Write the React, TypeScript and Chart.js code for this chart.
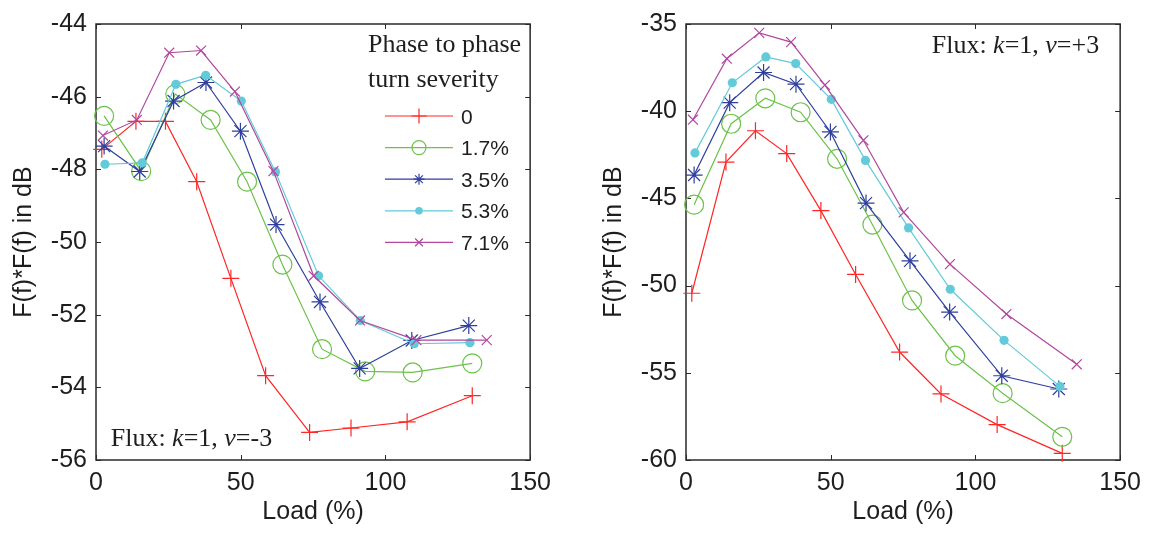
import React, { useEffect, useRef } from 'react';
import { Chart, registerables } from 'chart.js';
import { drawPoint } from 'chart.js/helpers';

Chart.register(...registerables);

// ---------- data ----------
const severityLabels = ['0', '1.7%', '3.5%', '5.3%', '7.1%'];

// load (%) positions of each series' markers
const load0 = [2, 13.8, 24, 34.8, 46.6, 58.6, 73.8, 88.1, 107.5, 130];
const load17 = [2.8, 15.6, 27.4, 39.6, 52.2, 64.4, 78.1, 93, 109.4, 130];
const load35 = [2.8, 15.1, 26.8, 38, 49.9, 62.2, 77.4, 91.1, 109.1, 128.8];
const load53 = [3.1, 16, 27.6, 37.9, 50.2, 62, 76.9, 91.3, 109.9, 129.2];
const load71 = [2.4, 14.1, 25.3, 36.3, 48, 61.3, 75.2, 91.2, 110.7, 135];

// Flux k=1, v=-3 (left panel)
const negS0 = [-47.45, -46.68, -46.68, -48.34, -51.0, -53.68, -55.24, -55.12, -54.95, -54.23];
const negS17 = [-46.53, -48.05, -45.93, -46.64, -48.34, -50.62, -52.95, -53.56, -53.59, -53.34];
const negS35 = [-47.36, -48.06, -46.12, -45.61, -46.95, -49.52, -51.65, -53.48, -52.71, -52.3];
const negS53 = [-47.86, -47.82, -45.66, -45.41, -46.12, -48.07, -50.93, -52.16, -52.8, -52.77];
const negS71 = [-47.07, -46.64, -44.79, -44.73, -45.86, -48.05, -50.93, -52.16, -52.7, -52.7];

// Flux k=1, v=+3 (right panel)
const posS0 = [-50.44, -42.92, -41.12, -42.43, -45.7, -49.36, -53.81, -56.21, -57.97, -59.62];
const posS17 = [-45.36, -40.72, -39.26, -40.06, -42.73, -46.5, -50.85, -54.02, -56.17, -58.67];
const posS35 = [-43.66, -39.51, -37.78, -38.45, -41.19, -45.27, -48.58, -51.52, -55.17, -55.93];
const posS53 = [-42.39, -38.37, -36.89, -37.27, -39.32, -42.82, -46.69, -50.21, -53.14, -55.78];
const posS71 = [-40.49, -36.99, -35.51, -36.04, -38.5, -41.67, -45.8, -48.77, -51.63, -54.51];

const xTicks = [0, 50, 100, 150];
const leftYTicks = [-56, -54, -52, -50, -48, -46, -44];
const rightYTicks = [-60, -55, -50, -45, -40, -35];

const xTitle = 'Load (%)';
const yTitle = 'F(f)*F(f) in dB';
const legendTitle = ['Phase to phase', 'turn severity'];

// ---------- styles ----------
const SANS = "'Liberation Sans', Arial, sans-serif";
const SERIF = "'Liberation Serif', 'Times New Roman', serif";
const TEXT = '#1e1e1e';

const seriesStyles = [
  { color: '#ff2626', pointStyle: 'cross', radius: 8.5, fill: false, legendRadius: 7.5 },
  { color: '#6cc24a', pointStyle: 'circle', radius: 9.5, fill: false, legendRadius: 7 },
  { color: '#2e3f9e', pointStyle: 'star', radius: 8.5, fill: false, legendRadius: 5.5 },
  { color: '#62cad9', pointStyle: 'circle', radius: 4.6, fill: true, legendRadius: 3.8 },
  { color: '#b1479f', pointStyle: 'crossRot', radius: 7, fill: false, legendRadius: 5.5 },
];

const loads = [load0, load17, load35, load53, load71];

function buildDatasets(values: number[][]) {
  return values.map((vals, i) => {
    const st = seriesStyles[i];
    return {
      label: severityLabels[i],
      data: vals.map((v, j) => ({ x: loads[i][j], y: v })),
      borderColor: st.color,
      backgroundColor: st.fill ? st.color : 'rgba(0,0,0,0)',
      borderWidth: 1.2,
      pointStyle: st.pointStyle,
      pointRadius: st.radius,
      pointBorderWidth: st.fill ? 0 : 1.2,
      pointBorderColor: st.color,
      pointBackgroundColor: st.fill ? st.color : 'rgba(0,0,0,0)',
      fill: false,
      tension: 0,
      clip: false,
      order: 4 - i,
    };
  });
}

const boxPlugin = {
  id: 'matlabBox',
  beforeDatasetsDraw(chart: any) {
    const { ctx, chartArea: a, scales } = chart;
    ctx.save();
    ctx.strokeStyle = '#2a2a2a';
    ctx.lineWidth = 1.5;
    ctx.strokeRect(a.left, a.top, a.right - a.left, a.bottom - a.top);
    ctx.lineWidth = 1;
    const tl = 5;
    ctx.beginPath();
    scales.x.ticks.forEach((t: any) => {
      const px = Math.round(scales.x.getPixelForValue(t.value)) + 0.5;
      ctx.moveTo(px, a.bottom);
      ctx.lineTo(px, a.bottom - tl);
      ctx.moveTo(px, a.top);
      ctx.lineTo(px, a.top + tl);
    });
    scales.y.ticks.forEach((t: any) => {
      const py = Math.round(scales.y.getPixelForValue(t.value)) + 0.5;
      ctx.moveTo(a.left, py);
      ctx.lineTo(a.left + tl, py);
      ctx.moveTo(a.right, py);
      ctx.lineTo(a.right - tl, py);
    });
    ctx.stroke();
    ctx.restore();
  },
};

function drawRich(ctx: CanvasRenderingContext2D, parts: [string, boolean][], x: number, y: number) {
  let cx = x;
  ctx.fillStyle = TEXT;
  ctx.textAlign = 'left';
  ctx.textBaseline = 'alphabetic';
  parts.forEach(([t, it]) => {
    ctx.font = `${it ? 'italic ' : ''}26px ${SERIF}`;
    ctx.fillText(t, cx, y);
    cx += ctx.measureText(t).width;
  });
}

function makeAnnotation(parts: [string, boolean][], x: number, y: number) {
  return {
    id: 'fluxNote',
    afterDraw(chart: any) {
      const ctx = chart.ctx;
      ctx.save();
      drawRich(ctx, parts, x, y);
      ctx.restore();
    },
  };
}

const legendPlugin = {
  id: 'severityLegend',
  afterDraw(chart: any) {
    const ctx = chart.ctx;
    ctx.save();
    ctx.fillStyle = TEXT;
    ctx.textAlign = 'left';
    ctx.textBaseline = 'alphabetic';
    ctx.font = `26px ${SERIF}`;
    ctx.fillText(legendTitle[0], 368, 52);
    ctx.fillText(legendTitle[1], 368, 87);
    chart.data.datasets.forEach((ds: any, i: number) => {
      const st = seriesStyles[i];
      const y = 116 + i * 31.6;
      ctx.strokeStyle = ds.borderColor;
      ctx.lineWidth = 1.2;
      ctx.beginPath();
      ctx.moveTo(385, y);
      ctx.lineTo(453, y);
      ctx.stroke();
      ctx.fillStyle = ds.pointBackgroundColor;
      ctx.strokeStyle = ds.borderColor;
      ctx.lineWidth = ds.pointBorderWidth;
      drawPoint(ctx, {
        pointStyle: ds.pointStyle,
        radius: st.legendRadius,
        borderWidth: ds.pointBorderWidth,
        rotation: 0,
      } as any, 419, y);
      ctx.fillStyle = TEXT;
      ctx.font = `21px ${SANS}`;
      ctx.fillText(ds.label, 461, y + 7.5);
    });
    ctx.restore();
  },
};

function buildOptions(yMin: number, yMax: number, yTicks: number[]) {
  return {
    responsive: false,
    animation: false,
    events: [],
    layout: { padding: { top: 20, right: 25, left: 0, bottom: 0 } },
    plugins: { legend: { display: false }, tooltip: { enabled: false } },
    scales: {
      x: {
        type: 'linear',
        min: 0,
        max: 150,
        afterBuildTicks: (s: any) => {
          s.ticks = xTicks.map((v) => ({ value: v }));
        },
        afterFit: (s: any) => {
          s.height = 74;
        },
        grid: { display: false, drawTicks: false },
        border: { display: false },
        ticks: {
          padding: 8,
          autoSkip: false,
          maxRotation: 0,
          color: TEXT,
          font: { family: SANS, size: 25 },
        },
        title: {
          display: true,
          text: xTitle,
          color: TEXT,
          font: { family: SANS, size: 25 },
          padding: { top: 0, bottom: 7 },
        },
      },
      y: {
        type: 'linear',
        min: yMin,
        max: yMax,
        afterBuildTicks: (s: any) => {
          s.ticks = yTicks.map((v) => ({ value: v }));
        },
        afterFit: (s: any) => {
          s.width = 96;
        },
        grid: { display: false, drawTicks: false },
        border: { display: false },
        ticks: {
          padding: 9,
          autoSkip: false,
          color: TEXT,
          font: { family: SANS, size: 25 },
        },
        title: {
          display: true,
          text: yTitle,
          color: TEXT,
          font: { family: SANS, size: 25 },
          padding: { top: 9, bottom: 0 },
        },
      },
    },
  };
}

export default function App() {
  const leftRef = useRef<HTMLCanvasElement | null>(null);
  const rightRef = useRef<HTMLCanvasElement | null>(null);

  useEffect(() => {
    document.body.style.margin = '0';
    const left = new Chart(leftRef.current as HTMLCanvasElement, {
      type: 'line',
      data: { datasets: buildDatasets([negS0, negS17, negS35, negS53, negS71]) as any },
      options: buildOptions(-56, -44, leftYTicks) as any,
      plugins: [
        boxPlugin,
        legendPlugin,
        makeAnnotation(
          [['Flux: ', false], ['k', true], ['=1, ', false], ['v', true], ['=-3', false]],
          110.7,
          445.5
        ),
      ] as any,
    });
    const right = new Chart(rightRef.current as HTMLCanvasElement, {
      type: 'line',
      data: { datasets: buildDatasets([posS0, posS17, posS35, posS53, posS71]) as any },
      options: buildOptions(-60, -35, rightYTicks) as any,
      plugins: [
        boxPlugin,
        makeAnnotation(
          [['Flux: ', false], ['k', true], ['=1, ', false], ['v', true], ['=+3', false]],
          341.7,
          52.8
        ),
      ] as any,
    });
    return () => {
      left.destroy();
      right.destroy();
    };
  }, []);

  return (
    <div
      style={{
        position: 'fixed',
        left: 0,
        top: 0,
        width: 1149,
        height: 534,
        background: '#fff',
        overflow: 'hidden',
      }}
    >
      <canvas
        ref={leftRef}
        width={559}
        height={534}
        style={{ position: 'absolute', left: 0, top: 0, width: 559, height: 534 }}
      />
      <canvas
        ref={rightRef}
        width={559}
        height={534}
        style={{ position: 'absolute', left: 590, top: 0, width: 559, height: 534 }}
      />
    </div>
  );
}
